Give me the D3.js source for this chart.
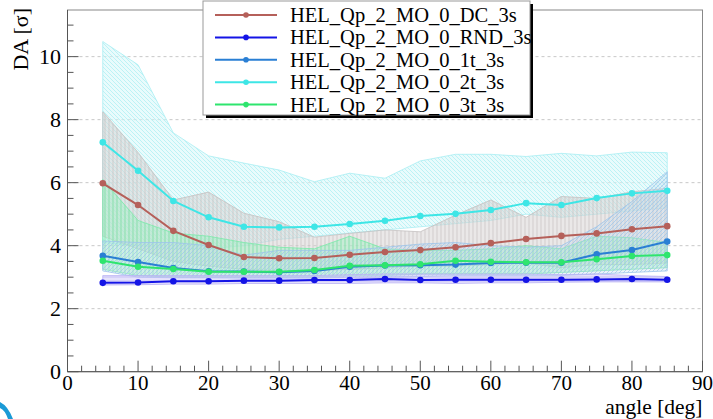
<!DOCTYPE html>
<html><head><meta charset="utf-8">
<script src="https://cdn.jsdelivr.net/npm/d3@7/dist/d3.min.js"></script>
<style>body{margin:0;background:#fff}svg{display:block}</style>
</head><body>
<svg id="c" width="713" height="419"></svg>
<script>
const angles = [5,10,15,20,25,30,35,40,45,50,55,60,65,70,75,80,85];
const seriesNames = ["HEL_Qp_2_MO_0_DC_3s","HEL_Qp_2_MO_0_RND_3s","HEL_Qp_2_MO_0_1t_3s","HEL_Qp_2_MO_0_2t_3s","HEL_Qp_2_MO_0_3t_3s"];
const valDC  = [5.98,5.29,4.47,4.02,3.64,3.60,3.61,3.71,3.80,3.86,3.95,4.08,4.21,4.31,4.39,4.52,4.62];
const valRND = [2.82,2.83,2.87,2.87,2.89,2.89,2.91,2.91,2.94,2.91,2.92,2.92,2.92,2.92,2.93,2.94,2.92];
const val1t  = [3.68,3.48,3.29,3.19,3.18,3.16,3.20,3.33,3.37,3.38,3.40,3.45,3.46,3.46,3.73,3.86,4.13];
const val2t  = [7.28,6.38,5.42,4.90,4.60,4.58,4.60,4.69,4.79,4.94,5.01,5.13,5.35,5.29,5.51,5.66,5.74];
const val3t  = [3.52,3.33,3.26,3.17,3.17,3.17,3.23,3.36,3.38,3.41,3.52,3.49,3.47,3.47,3.57,3.67,3.70];
// envelope bands (low / high)
const loDC  = [4.30,3.90,3.50,3.35,3.25,3.20,3.20,3.25,3.30,3.35,3.35,3.40,3.45,3.30,3.40,3.40,3.45];
const hiDC  = [8.25,6.96,5.45,5.70,5.03,4.76,4.27,4.39,4.50,4.44,4.97,5.45,4.90,5.56,5.50,5.71,5.82];
const loRND = [2.75,2.76,2.78,2.78,2.80,2.80,2.80,2.80,2.82,2.82,2.80,2.82,2.82,2.84,2.85,2.85,2.85];
const hiRND = [3.05,3.05,3.05,3.05,3.05,3.05,3.05,3.08,3.10,3.10,3.10,3.10,3.10,3.08,3.10,3.05,3.02];
const lo1t  = [3.20,3.00,2.98,2.98,2.97,2.97,2.97,3.00,3.00,3.02,3.05,3.05,3.05,3.05,3.10,3.15,3.20];
const hi1t  = [4.15,4.10,4.10,4.00,3.70,3.85,3.85,3.85,3.95,4.05,4.10,4.00,3.95,4.00,4.60,5.40,6.35];
const lo2t  = [4.10,4.00,3.90,3.90,4.00,4.20,4.30,4.40,4.50,4.60,4.70,4.80,5.00,4.90,5.00,5.10,5.20];
const hi2t  = [10.48,9.74,7.58,6.85,6.62,6.40,6.03,6.30,6.14,6.69,6.90,6.90,6.83,6.93,6.85,6.97,6.95];
const lo3t  = [3.25,3.05,3.00,3.00,3.00,3.00,3.00,3.05,3.05,3.10,3.10,3.10,3.10,3.15,3.20,3.25,3.30];
const hi3t  = [6.10,4.80,4.40,4.30,4.10,3.95,3.90,4.30,3.90,3.85,3.85,3.90,4.00,3.90,4.30,4.25,4.10];
const xTicks = [0,10,20,30,40,50,60,70,80,90];
const yTicks = [0,2,4,6,8,10];
const xTitle = "angle [deg]";
const yTitle = "DA [σ]";

const FONT = "'Liberation Serif', 'Times New Roman', Times, 'DejaVu Serif', serif";
const series = [
  {name:seriesNames[0], v:valDC,  lo:loDC,  hi:hiDC,  color:"#b5605a", band:"#c4c0c0", bandBg:"rgba(214,210,210,0.5)", pat:"vert"},
  {name:seriesNames[1], v:valRND, lo:loRND, hi:hiRND, color:"#1414e6", band:"#b8b0f4", bandBg:"rgba(205,198,250,0.5)", pat:"horiz"},
  {name:seriesNames[2], v:val1t,  lo:lo1t,  hi:hi1t,  color:"#2a7fd4", band:"#9cc4ea", bandBg:"rgba(190,215,240,0.3)", pat:"diag2"},
  {name:seriesNames[3], v:val2t,  lo:lo2t,  hi:hi2t,  color:"#3ee6e6", band:"#a8eef2", bandBg:"rgba(215,248,250,0.55)", pat:"diag"},
  {name:seriesNames[4], v:val3t,  lo:lo3t,  hi:hi3t,  color:"#2ee56e", band:"#78eaa8", bandBg:"rgba(160,240,195,0.45)", pat:"vert"}
];
const bandOrder = [3,0,4,2,1];

const L=67.5, R=702.5, T=10, B=371.7;
const svg = d3.select("#c");
const x = d3.scaleLinear().domain([0,90]).range([L,R]);
const y = d3.scaleLinear().domain([0,11.48]).range([B,T]);

const defs = svg.append("defs");
series.forEach((s,i)=>{
  const p = defs.append("pattern").attr("id","p"+i).attr("patternUnits","userSpaceOnUse")
    .attr("width",4).attr("height",4);
  p.append("rect").attr("width",4).attr("height",4).attr("fill",s.bandBg);
  let d;
  if(s.pat==="vert") d="M1,0V4";
  else if(s.pat==="horiz") d="M0,1H4";
  else if(s.pat==="diag") d="M0,0L4,4M-1,3L1,5M3,-1L5,1";
  else d="M0,4L4,0M-1,1L1,-1M3,5L5,3";
  p.append("path").attr("d",d).attr("stroke",s.band).attr("stroke-width",0.7).attr("fill","none");
});
defs.append("clipPath").attr("id","clip").append("rect").attr("x",L).attr("y",T).attr("width",R-L).attr("height",B-T);

// grid
svg.append("g").selectAll("line").data(yTicks.filter(d=>d>0)).join("line")
  .attr("x1",L).attr("x2",R).attr("y1",d=>y(d)).attr("y2",d=>y(d))
  .attr("stroke","#c8c8c8").attr("stroke-width",1).attr("stroke-dasharray","3,3");

const plot = svg.append("g").attr("clip-path","url(#clip)");
const area = d3.area().x((d,i)=>x(angles[i])).y0(d=>y(d[0])).y1(d=>y(d[1]));
bandOrder.forEach(i=>{
  const s=series[i];
  const pts = angles.map((a,k)=>[s.lo[k],s.hi[k]]);
  plot.append("path").attr("d",area(pts)).attr("fill","url(#p"+i+")").attr("stroke",s.band).attr("stroke-width",0.8);
});
const line = d3.line().x((d,i)=>x(angles[i])).y(d=>y(d));
series.forEach(s=>{
  plot.append("path").attr("d",line(s.v)).attr("fill","none").attr("stroke",s.color).attr("stroke-width",2);
  plot.append("g").selectAll("circle").data(s.v).join("circle")
    .attr("cx",(d,i)=>x(angles[i])).attr("cy",d=>y(d)).attr("r",3.3).attr("fill",s.color);
});

// frame
svg.append("rect").attr("x",L).attr("y",T).attr("width",R-L).attr("height",B-T).attr("fill","none").attr("stroke","#888").attr("stroke-width",1);
svg.append("line").attr("x1",L).attr("x2",L).attr("y1",T).attr("y2",B).attr("stroke","#555");
svg.append("line").attr("x1",L).attr("x2",R).attr("y1",B).attr("y2",B).attr("stroke","#555");

// x axis ticks
const xMinor = d3.range(0,90.01,2);
svg.append("g").selectAll("line").data(xMinor).join("line")
  .attr("x1",d=>x(d)).attr("x2",d=>x(d)).attr("y1",B).attr("y2",d=>B-(d%10===0?11:6))
  .attr("stroke","#555").attr("stroke-width",1);
svg.append("g").selectAll("text").data(xTicks).join("text")
  .attr("x",d=>x(d)).attr("y",389.5).attr("text-anchor","middle")
  .attr("font-family",FONT).attr("font-size",21).text(d=>d);
// y axis ticks
const yMinor = d3.range(0,11.01,0.5);
svg.append("g").selectAll("line").data(yMinor).join("line")
  .attr("y1",d=>y(d)).attr("y2",d=>y(d)).attr("x1",L).attr("x2",d=>L+(d%2===0?11:6))
  .attr("stroke","#555").attr("stroke-width",1);
svg.append("g").selectAll("text").data(yTicks).join("text")
  .attr("x",61).attr("y",d=>y(d)+7.5).attr("text-anchor","end")
  .attr("font-family",FONT).attr("font-size",22).text(d=>d);

svg.append("text").attr("x",R).attr("y",414).attr("text-anchor","end")
  .attr("font-family",FONT).attr("font-size",21.5).text(xTitle);
svg.append("text").attr("transform","translate(28,8) rotate(-90)").attr("text-anchor","end")
  .attr("font-family",FONT).attr("font-size",22).text(yTitle);

// legend
const lg = svg.append("g");
const LX=203, LY=1, LW=327, LH=114;
lg.append("rect").attr("x",LX+3).attr("y",LY+3).attr("width",LW).attr("height",LH).attr("fill","#000");
lg.append("rect").attr("x",LX).attr("y",LY).attr("width",LW).attr("height",LH).attr("fill","#fff").attr("stroke","#999");
series.forEach((s,i)=>{
  const yy = 15+i*22.4;
  lg.append("line").attr("x1",215).attr("x2",277).attr("y1",yy).attr("y2",yy).attr("stroke",s.color).attr("stroke-width",2);
  lg.append("circle").attr("cx",246).attr("cy",yy).attr("r",2.8).attr("fill",s.color);
  lg.append("text").attr("x",290).attr("y",yy+7).attr("font-family",FONT).attr("font-size",20.5).text(s.name);
});

// corner decoration
svg.append("path").attr("d","M0,402 Q8,406 13,419 L8,419 Q5,410 0,408Z").attr("fill","#1a9ad6");
</script>
</body></html>
